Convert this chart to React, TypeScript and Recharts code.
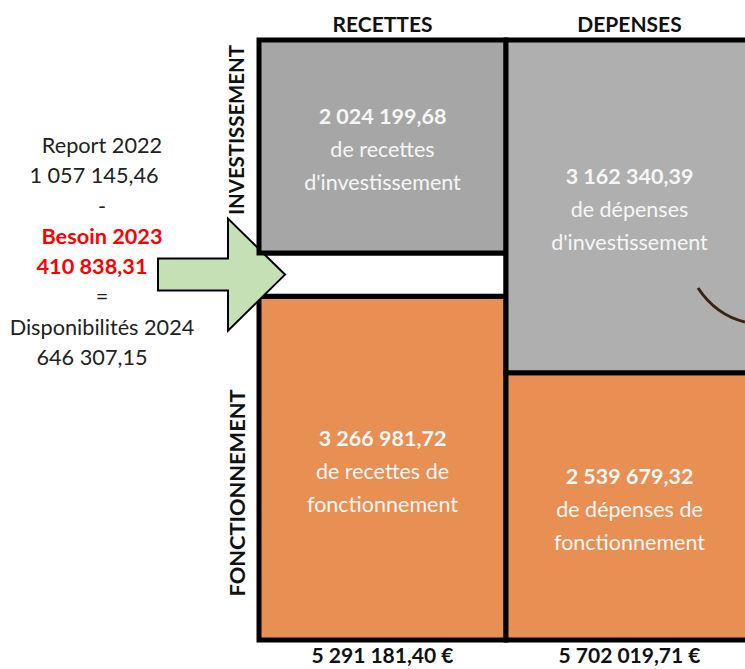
import { Bar, BarChart, Cell, LabelList, XAxis, YAxis } from 'recharts';

const categories = ['RECETTES', 'DEPENSES'];
const totalLabels = ['5 291 181,40 €', '5 702 019,71 €'];
const investissement = [2024199.68, 3162340.39];
const fonctionnement = [3266981.72, 2539679.32];
const besoin = [410838.31, 0];

const investAmounts = ['2 024 199,68', '3 162 340,39'];
const investLines = [['de recettes', "d'investissement"], ['de dépenses', "d'investissement"]];
const fonctAmounts = ['3 266 981,72', '2 539 679,32'];
const fonctLines = [['de recettes de', 'fonctionnement'], ['de dépenses de', 'fonctionnement']];

const investColors = ['#a6a6a6', '#afafaf'];
const orange = '#e89053';
const font = "Lato, 'Open Sans', sans-serif";

const sideText = [
  { text: 'Report 2022', red: false, shift: 0 },
  { text: '1 057 145,46', red: false, shift: -8 },
  { text: '-', red: false, shift: 0 },
  { text: 'Besoin 2023', red: true, shift: 0 },
  { text: '410 838,31', red: true, shift: -10 },
  { text: '=', red: false, shift: 0 },
  { text: 'Disponibilités 2024', red: false, shift: 0 },
  { text: '646 307,15', red: false, shift: -10 },
];

const data = categories.map((name, i) => ({
  name,
  total: totalLabels[i],
  fonctionnement: fonctionnement[i],
  besoin: besoin[i],
  investissement: investissement[i],
}));

const maxTotal = Math.max(...data.map((d) => d.fonctionnement + d.besoin + d.investissement));

function segmentLabel(amounts: string[], lines: string[][]) {
  return (props: any) => {
    const { x, y, width, height, index } = props;
    const cx = x + width / 2;
    const cy = y + height / 2 + 3;
    return (
      <text textAnchor="middle" dominantBaseline="central" fill="#f6f6f6" fontFamily={font} fontSize={21.5}>
        <tspan x={cx} y={cy - 33} fontWeight="bold">{amounts[index]}</tspan>
        <tspan x={cx} y={cy}>{lines[index][0]}</tspan>
        <tspan x={cx} y={cy + 33}>{lines[index][1]}</tspan>
      </text>
    );
  };
}

function GapShape(props: any) {
  const { x, y, width, height } = props;
  if (!height) return null;
  const tip = x + 26;
  const cy = y + height / 2;
  const pts = [
    [tip - 127, cy - 16],
    [tip - 57, cy - 16],
    [tip - 57, cy - 56],
    [tip, cy],
    [tip - 57, cy + 56],
    [tip - 57, cy + 16],
    [tip - 127, cy + 16],
  ]
    .map((p) => p.join(','))
    .join(' ');
  return (
    <g>
      <rect x={x} y={y} width={width} height={height} fill="#ffffff" stroke="#000" strokeWidth={5} />
      <polygon points={pts} fill="#c5e0b4" stroke="#000" strokeWidth={2} strokeLinejoin="miter" />
    </g>
  );
}

const tickStyle = { fill: '#111', fontFamily: font, fontSize: 21, fontWeight: 700 };

export default function App() {
  return (
    <div style={{ position: 'absolute', left: 0, top: 0, width: 745, height: 669, overflow: 'hidden', background: '#fff' }}>
      <BarChart
        width={753}
        height={669}
        data={data}
        margin={{ top: 10, right: 0, bottom: 0, left: 259 }}
        barCategoryGap={0}
        barGap={0}
      >
        <XAxis xAxisId="top" orientation="top" dataKey="name" height={30} axisLine={false} tickLine={false} tick={tickStyle} />
        <XAxis xAxisId="bottom" orientation="bottom" dataKey="total" height={29} axisLine={false} tickLine={false} tick={tickStyle} />
        <YAxis hide domain={[0, maxTotal]} />
        <Bar xAxisId="top" dataKey="fonctionnement" stackId="a" fill={orange} stroke="#000" strokeWidth={5} isAnimationActive={false}>
          <LabelList dataKey="fonctionnement" content={segmentLabel(fonctAmounts, fonctLines)} />
        </Bar>
        <Bar xAxisId="top" dataKey="besoin" stackId="a" shape={<GapShape />} isAnimationActive={false} />
        <Bar xAxisId="top" dataKey="investissement" stackId="a" stroke="#000" strokeWidth={5} isAnimationActive={false}>
          {data.map((d, i) => (
            <Cell key={d.name} fill={investColors[i]} />
          ))}
          <LabelList dataKey="investissement" content={segmentLabel(investAmounts, investLines)} />
        </Bar>
      </BarChart>

      <svg width={745} height={669} style={{ position: 'absolute', left: 0, top: 0, pointerEvents: 'none' }}>
        <text transform="translate(236,130) rotate(-90)" textAnchor="middle" dominantBaseline="central" fontFamily={font} fontWeight="bold" fontSize={20.5} fill="#111" textLength={170} lengthAdjust="spacingAndGlyphs">
          INVESTISSEMENT
        </text>
        <text transform="translate(236,493) rotate(-90)" textAnchor="middle" dominantBaseline="central" fontFamily={font} fontWeight="bold" fontSize={21} fill="#111" textLength={207} lengthAdjust="spacingAndGlyphs">
          FONCTIONNEMENT
        </text>
        <path d="M698,288 Q716,315 745,322" fill="none" stroke="#3b2314" strokeWidth={3} />
      </svg>

      <div style={{ position: 'absolute', left: 2, top: 130, width: 200, fontFamily: font, fontSize: 21.7, lineHeight: '30.3px', textAlign: 'center', color: '#222' }}>
        {sideText.map((l) => (
          <div key={l.text} style={{ color: l.red ? '#ff0000' : '#222', fontWeight: l.red ? 700 : 400, position: 'relative', left: l.shift }}>
            {l.text}
          </div>
        ))}
      </div>
    </div>
  );
}
